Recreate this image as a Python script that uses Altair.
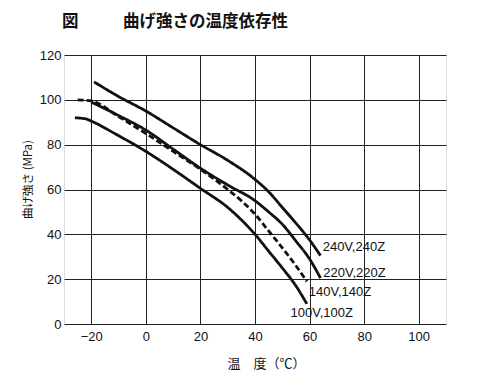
import altair as alt
import pandas as pd

# --- data ---
t240 = [-19, -10, 0, 10, 20, 30, 40, 45, 50, 55, 60, 64]
s240 = [108, 101.5, 95, 87.5, 80, 73, 64.5, 59, 52, 45, 37.5, 30.5]

t220 = [-20, -10, 0, 10, 20, 30, 40, 45, 50, 55, 60, 64]
s220 = [99, 93, 86.5, 78, 69.5, 62, 55, 50, 44.5, 37, 29, 20.5]

t140 = [-25, -20, -10, 0, 10, 20, 30, 35, 40, 45, 50, 55, 59]
s140 = [100, 99.5, 92.5, 85, 77, 69, 60, 55, 49, 41.5, 34, 26, 19]

t100 = [-26, -22, -20, -10, 0, 10, 20, 30, 40, 45, 50, 55, 59]
s100 = [92, 91.5, 90.5, 84, 77, 69, 60.5, 52, 40, 32.5, 25, 17, 9]

series_names = ["240V,240Z", "220V,220Z", "140V,140Z", "100V,100Z"]
series_dashed = [False, False, True, False]

label_x = [64.8, 65, 59.7, 53]
label_y = [34.3, 22.6, 14.4, 4.8]

x_ticks = [-20, 0, 20, 40, 60, 80, 100]
y_ticks = [0, 20, 40, 60, 80, 100, 120]

rows = []
for name, ts, ss, dashed in zip(series_names, [t240, t220, t140, t100],
                                [s240, s220, s140, s100], series_dashed):
    for t, s in zip(ts, ss):
        rows.append({"series": name, "temp": t, "strength": s,
                     "style": "dash" if dashed else "solid"})
df = pd.DataFrame(rows)
labels = pd.DataFrame({"text": series_names, "x": label_x, "y": label_y})

xscale = alt.Scale(domain=[-30, 110], nice=False, zero=False)
yscale = alt.Scale(domain=[0, 120], nice=False)

NUM_FONT = "Liberation Sans"
JP_FONT = "Noto Sans CJK JP"

lines = alt.Chart(df).mark_line(
    color="#111111", strokeWidth=2.8, interpolate="monotone"
).encode(
    x=alt.X("temp:Q", scale=xscale,
            axis=alt.Axis(values=x_ticks, title="温　度（℃）", grid=True,
                          gridColor="#222222", gridWidth=1, domain=False,
                          ticks=False, labelPadding=6, labelFontSize=13,
                          labelFont=NUM_FONT, labelColor="#111111",
                          titleFont=JP_FONT, titleFontSize=13,
                          titleFontWeight="normal", titlePadding=14,
                          titleColor="#111111", titleX=202)),
    y=alt.Y("strength:Q", scale=yscale,
            axis=alt.Axis(values=y_ticks, title="曲げ強さ (MPa)", grid=True,
                          gridColor="#222222", gridWidth=1, domain=False,
                          ticks=False, labelPadding=3, labelFontSize=13,
                          labelFont=NUM_FONT, labelColor="#111111",
                          titleFont=JP_FONT, titleFontSize=11.5,
                          titleFontWeight="normal", titlePadding=6,
                          titleColor="#111111", titleY=124)),
    detail="series:N",
    strokeDash=alt.StrokeDash(
        "style:N",
        scale=alt.Scale(domain=["solid", "dash"], range=[[1, 0], [6, 3]]),
        legend=None),
)

text = alt.Chart(labels).mark_text(
    align="left", baseline="middle", fontSize=13, font=NUM_FONT,
    color="#111111"
).encode(
    x=alt.X("x:Q", scale=xscale),
    y=alt.Y("y:Q", scale=yscale),
    text="text:N",
)

chart = alt.layer(lines, text).properties(
    width=382,
    height=269,
    title=alt.TitleParams(
        text="図\u3000\u3000\u2002\u2009曲げ強さの温度依存性", anchor="start",
        frame="group", fontSize=16.5, font=JP_FONT, fontWeight="bold",
        color="#111111", offset=19, dx=-2),
    autosize=alt.AutoSizeParams(type="none"),
    padding={"left": 56, "top": 47, "right": 46, "bottom": 53},
).configure_view(
    stroke="#222222", strokeWidth=1
).configure(background="white")

chart.save("out.html", embed_options={"renderer": "svg", "actions": False})
